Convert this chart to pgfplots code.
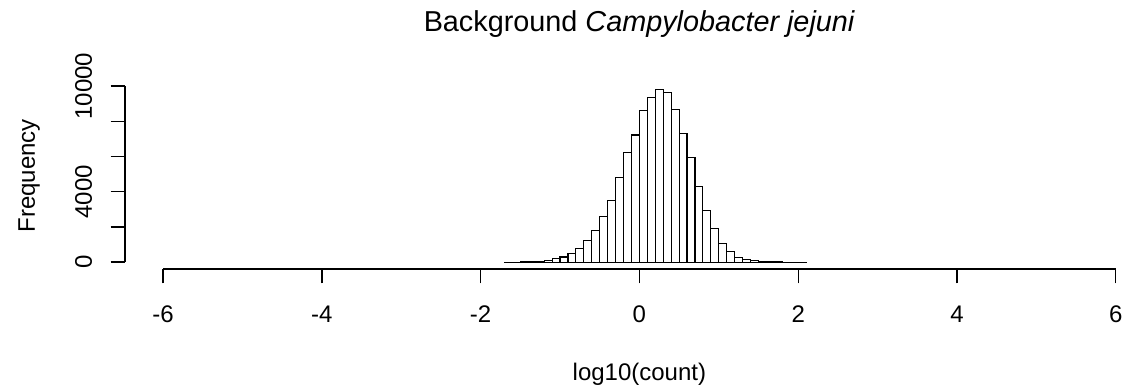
\documentclass[border=0pt]{standalone}
\usepackage{fontspec}
\setmainfont{Liberation Sans}
\usepackage{pgfplots}
\pgfplotsset{compat=1.18}

\newcommand{\basefont}{\fontsize{24bp}{28bp}\selectfont}
\newcommand{\mainfont}{\fontsize{28.8bp}{34bp}\selectfont}

\begin{document}
\begin{tikzpicture}
\begin{axis}[
  at={(0,0)}, anchor=south west,
  scale only axis,
  width=1028.8bp, height=186.1bp,
  xmin=-6.48, xmax=6.48,
  ymin=-391.6, ymax=10181.6,
  axis x line*=bottom, axis y line*=left,
  x axis line style={draw=none},
  y axis line style={draw=none},
  xtick={-6,-4,-2,0,2,4,6},
  xticklabels={-6,-4,-2,0,2,4,6},
  ytick={0,2000,4000,6000,8000,10000},
  yticklabels={0,,4000,,,10000},
  scaled x ticks=false, scaled y ticks=false,
  minor tick num=0,
  tick align=outside,
  major tick length=14.4bp,
  tick style={black, line width=1.3bp},
  tick label style={font=\basefont, inner sep=0pt},
  xticklabel style={anchor=base, yshift=-38.6bp},
  yticklabel style={rotate=90, anchor=base},
  yticklabel shift=18.6bp,
  clip=false,
]
% frequency of log10(count) in bins of width 0.1
\addplot[ybar interval, fill=white, draw=black, line width=1.1bp] coordinates {
  (-1.7,1) (-1.6,2) (-1.5,4) (-1.4,10) (-1.3,25)
  (-1.2,100) (-1.1,180) (-1.0,290) (-0.9,470) (-0.8,790)
  (-0.7,1225) (-0.6,1800) (-0.5,2590) (-0.4,3520) (-0.3,4820)
  (-0.2,6210) (-0.1,7220) (0.0,8610) (0.1,9370) (0.2,9790)
  (0.3,9640) (0.4,8690) (0.5,7320) (0.6,5940) (0.7,4300)
  (0.8,2930) (0.9,1890) (1.0,1050) (1.1,600) (1.2,280)
  (1.3,170) (1.4,90) (1.5,40) (1.6,15) (1.7,6)
  (1.8,2) (1.9,1) (2.0,1) (2.1,0)
};
% axis lines spanning the tick range only
\draw[black, line width=1.3bp] (axis cs:-6,-391.6) -- (axis cs:6,-391.6);
\draw[black, line width=1.3bp] (axis cs:-6.48,0) -- (axis cs:-6.48,10000);
\node[anchor=base, font=\mainfont] at ([yshift=237.3bp]axis description cs:0.5,0)
  {Background \textit{Campylobacter jejuni}};
\node[anchor=base, font=\basefont] at ([yshift=-111bp]axis description cs:0.5,0)
  {log10(count)};
\node[anchor=base, rotate=90, font=\basefont] at ([xshift=-90bp]axis description cs:0,0.5)
  {Frequency};
\end{axis}
\pgfresetboundingbox
\path[use as bounding box] (-125bp,-118bp) rectangle (998bp,269bp);
\end{tikzpicture}
\end{document}
